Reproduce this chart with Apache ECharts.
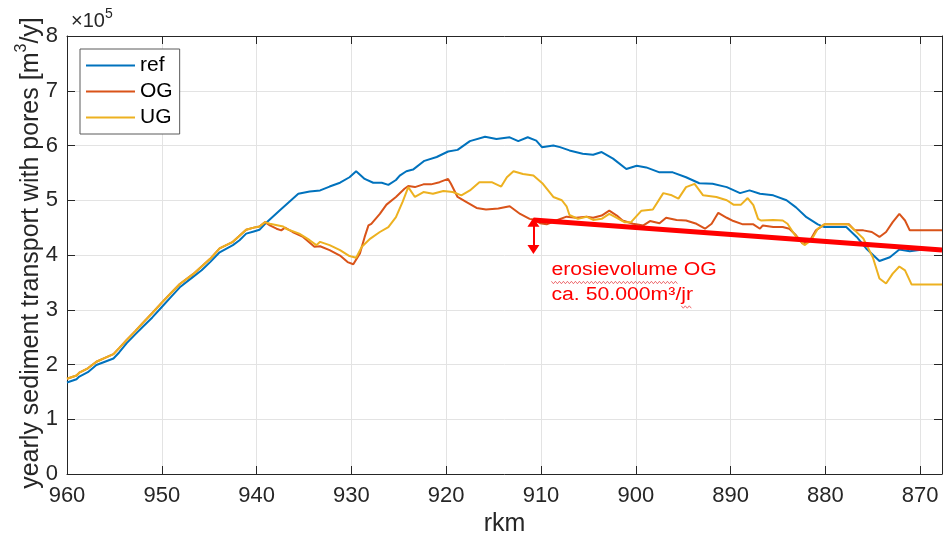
<!DOCTYPE html>
<html>
<head>
<meta charset="utf-8">
<script src="https://cdn.jsdelivr.net/npm/echarts@6/dist/echarts.min.js"></script>
<style>
  html, body { margin: 0; padding: 0; background: #fff; }
  #chart { width: 945px; height: 542px; }
</style>
</head>
<body>
<div id="chart"></div>
<script>
// Yearly sediment transport (incl. pores), values in units of 1e5 m3/y, along the river kilometre (rkm)

const xTickValues = [960, 950, 940, 930, 920, 910, 900, 890, 880, 870];
const xMin = 867.7;
const xMax = 960;

// reference run
const refKm = [960.0, 959.0, 958.7, 957.8, 956.9, 956.0, 955.1, 954.5, 953.7, 952.8, 952.0, 951.0, 950.0, 949.0, 948.1, 946.7, 945.8, 944.9, 943.9, 942.5, 941.8, 941.1, 940.3, 939.7, 939.1, 937.6, 935.6, 934.4, 933.3, 932.3, 931.2, 930.2, 929.5, 928.6, 927.7, 926.8, 926.1, 925.3, 924.9, 924.2, 923.5, 922.3, 921.0, 919.8, 918.8, 917.5, 915.9, 914.7, 913.3, 912.4, 911.4, 910.5, 909.9, 908.7, 908.0, 907.0, 905.6, 904.5, 903.6, 902.4, 901.0, 899.9, 898.9, 897.5, 896.1, 894.7, 893.3, 891.9, 890.4, 889.0, 888.0, 886.9, 885.5, 884.1, 883.1, 882.0, 880.8, 880.1, 877.8, 876.7, 875.7, 874.3, 873.2, 872.2, 871.1, 869.7, 867.7];
const refVal = [1.67, 1.73, 1.78, 1.86, 1.99, 2.05, 2.11, 2.22, 2.39, 2.55, 2.69, 2.86, 3.05, 3.24, 3.41, 3.60, 3.72, 3.87, 4.05, 4.18, 4.27, 4.39, 4.43, 4.46, 4.57, 4.81, 5.12, 5.16, 5.18, 5.25, 5.32, 5.42, 5.53, 5.39, 5.32, 5.32, 5.28, 5.37, 5.45, 5.53, 5.56, 5.72, 5.79, 5.89, 5.92, 6.08, 6.16, 6.12, 6.15, 6.08, 6.15, 6.09, 5.97, 6.00, 5.97, 5.91, 5.85, 5.83, 5.88, 5.76, 5.57, 5.63, 5.60, 5.51, 5.51, 5.42, 5.31, 5.30, 5.24, 5.13, 5.18, 5.12, 5.09, 5.00, 4.87, 4.69, 4.56, 4.51, 4.51, 4.33, 4.12, 3.89, 3.96, 4.10, 4.07, 4.10, 4.09];

// common upstream part of both variants
const sharedKm = [960.0, 959.0, 958.7, 957.8, 956.9, 956.0, 955.1, 954.5, 953.7, 952.8, 952.0, 951.0, 950.0, 949.0, 948.1, 946.7, 945.8, 944.9, 943.9, 942.5, 941.1, 940.3, 939.7, 939.1];
const sharedVal = [1.74, 1.80, 1.85, 1.93, 2.05, 2.12, 2.19, 2.30, 2.45, 2.61, 2.76, 2.94, 3.13, 3.31, 3.47, 3.65, 3.79, 3.93, 4.12, 4.24, 4.46, 4.50, 4.52, 4.60];

// variant OG
const ogKm = [938.6, 937.9, 937.4, 937.0, 936.2, 935.1, 933.9, 933.3, 932.3, 931.2, 930.4, 929.8, 929.1, 928.6, 928.2, 927.9, 927.0, 926.3, 925.3, 924.4, 924.0, 923.3, 922.4, 921.6, 920.7, 919.8, 919.5, 918.8, 917.9, 916.8, 915.8, 914.5, 913.3, 912.2, 911.2, 910.8, 910.1, 909.4, 908.4, 907.3, 906.3, 905.2, 904.5, 903.6, 902.8, 902.0, 901.4, 900.3, 899.2, 898.5, 897.5, 896.8, 895.7, 894.7, 893.6, 892.7, 892.0, 891.3, 890.4, 889.7, 888.7, 887.6, 886.9, 886.6, 885.5, 884.5, 883.8, 883.1, 882.4, 881.7, 881.0, 880.1, 877.5, 876.9, 876.0, 875.1, 874.3, 873.6, 872.9, 872.2, 871.6, 871.1, 867.7];
const ogVal = [4.54, 4.48, 4.45, 4.50, 4.42, 4.33, 4.15, 4.16, 4.09, 3.99, 3.87, 3.83, 4.03, 4.33, 4.54, 4.57, 4.75, 4.92, 5.06, 5.21, 5.26, 5.24, 5.29, 5.29, 5.33, 5.39, 5.30, 5.06, 4.97, 4.86, 4.83, 4.85, 4.89, 4.75, 4.66, 4.65, 4.58, 4.56, 4.63, 4.70, 4.68, 4.70, 4.68, 4.72, 4.81, 4.72, 4.63, 4.57, 4.54, 4.62, 4.58, 4.68, 4.64, 4.63, 4.57, 4.48, 4.57, 4.77, 4.68, 4.62, 4.56, 4.56, 4.48, 4.54, 4.51, 4.51, 4.48, 4.36, 4.21, 4.24, 4.45, 4.56, 4.56, 4.45, 4.45, 4.42, 4.33, 4.42, 4.60, 4.75, 4.63, 4.45, 4.45];

// variant UG
const ugKm = [938.6, 937.2, 936.9, 935.5, 934.4, 933.7, 933.3, 932.3, 931.2, 930.2, 929.5, 928.9, 928.0, 927.0, 926.1, 925.3, 924.6, 924.0, 923.3, 922.4, 921.4, 920.3, 919.3, 918.4, 917.5, 916.5, 915.2, 914.2, 913.6, 912.9, 911.9, 910.8, 909.8, 908.7, 907.8, 907.3, 907.0, 906.1, 905.2, 904.5, 903.6, 902.8, 902.0, 901.2, 900.5, 899.4, 898.2, 897.1, 896.2, 895.5, 894.7, 893.8, 892.9, 891.5, 890.4, 889.7, 888.9, 888.2, 887.6, 887.1, 886.8, 885.5, 884.5, 884.0, 883.2, 882.2, 881.5, 880.8, 880.1, 877.6, 876.9, 876.0, 875.0, 874.3, 873.6, 872.9, 872.2, 871.6, 870.9, 867.7];
const ugVal = [4.57, 4.52, 4.48, 4.39, 4.27, 4.18, 4.24, 4.18, 4.09, 3.98, 3.95, 4.15, 4.30, 4.42, 4.51, 4.69, 4.97, 5.24, 5.06, 5.15, 5.12, 5.17, 5.15, 5.09, 5.18, 5.33, 5.33, 5.25, 5.42, 5.53, 5.48, 5.45, 5.30, 5.06, 5.00, 4.89, 4.73, 4.66, 4.70, 4.64, 4.66, 4.75, 4.68, 4.60, 4.60, 4.81, 4.83, 5.13, 5.09, 5.03, 5.24, 5.30, 5.09, 5.06, 5.00, 4.92, 4.92, 5.04, 4.91, 4.66, 4.63, 4.64, 4.63, 4.57, 4.36, 4.18, 4.27, 4.48, 4.56, 4.56, 4.45, 4.30, 3.96, 3.57, 3.48, 3.66, 3.79, 3.72, 3.46, 3.46];

// erosion trend of OG and the erosion volume marker
const trendKm = [910.8, 867.7];
const trendVal = [4.64, 4.09];
const arrowKm = 910.8;
const arrowTop = 4.60;
const erosionVolume = 0.5; // 50.000 m3/jr = 0.5 x 1e5

const FONT = "'Liberation Sans', Arial, Helvetica, sans-serif";
const AXIS = '#262626';
const GRID = '#e3e3e3';

function pairs(km, val) { return km.map((k, i) => [k, val[i]]); }

const refData = pairs(refKm, refVal);
const ogData = pairs(sharedKm, sharedVal).concat(pairs(ogKm, ogVal));
const ugData = pairs(sharedKm, sharedVal).concat(pairs(ugKm, ugVal));
const trendData = pairs(trendKm, trendVal);

const chart = echarts.init(document.getElementById('chart'), null, { renderer: 'canvas' });

const xBase = {
  type: 'value', min: xMin, max: xMax, inverse: true,
  axisLine: { show: true, onZero: false, lineStyle: { color: AXIS, width: 1 } },
  axisTick: { show: true, inside: true, length: 8, customValues: xTickValues, lineStyle: { color: AXIS } },
  axisLabel: { show: false, customValues: xTickValues },
  splitLine: { show: false }
};
const yBase = {
  type: 'value', min: 0, max: 8, interval: 1,
  axisLine: { show: true, onZero: false, lineStyle: { color: AXIS, width: 1 } },
  axisTick: { show: true, inside: true, length: 8, lineStyle: { color: AXIS } },
  axisLabel: { show: false },
  splitLine: { show: false }
};

chart.setOption({
  animation: false,
  backgroundColor: '#fff',
  textStyle: { fontFamily: FONT },
  grid: { left: 67, top: 36, right: 3, bottom: 68, containLabel: false },
  legend: {
    orient: 'vertical', left: 80, top: 49,
    padding: [6, 7, 6, 6],
    itemGap: 5, itemWidth: 49, itemHeight: 2, icon: 'rect',
    backgroundColor: '#fff', borderColor: '#5a5a5a', borderWidth: 1, borderRadius: 0,
    textStyle: { fontSize: 21, lineHeight: 21, color: '#000', fontFamily: FONT },
    data: ['ref', 'OG', 'UG']
  },
  xAxis: [
    Object.assign({}, xBase, {
      position: 'bottom',
      name: 'rkm', nameLocation: 'middle', nameGap: 36,
      nameTextStyle: { fontSize: 25, color: AXIS, fontFamily: FONT },
      axisLabel: { show: true, customValues: xTickValues, fontSize: 22, color: AXIS, margin: 11, fontFamily: FONT },
      splitLine: { show: true, lineStyle: { color: GRID, width: 1 } }
    }),
    Object.assign({}, xBase, { position: 'top' })
  ],
  yAxis: [
    Object.assign({}, yBase, {
      position: 'left',
      axisLabel: { show: true, fontSize: 22, color: AXIS, margin: 9, fontFamily: FONT },
      splitLine: { show: true, lineStyle: { color: GRID, width: 1 } }
    }),
    Object.assign({}, yBase, { position: 'right' })
  ],
  series: [
    { name: 'ref', type: 'line', data: refData, symbol: 'none', lineStyle: { color: '#0072BD', width: 2 }, itemStyle: { color: '#0072BD' }, z: 2 },
    { name: 'OG', type: 'line', data: ogData, symbol: 'none', lineStyle: { color: '#D95319', width: 2 }, itemStyle: { color: '#D95319' }, z: 3 },
    { name: 'UG', type: 'line', data: ugData, symbol: 'none', lineStyle: { color: '#EDB120', width: 2 }, itemStyle: { color: '#EDB120' }, z: 4 },
    {
      name: 'trend', type: 'line', data: trendData, symbol: 'none',
      lineStyle: { color: '#ff0000', width: 5 }, z: 6, silent: true,
      markLine: {
        silent: true, animation: false,
        symbol: ['triangle', 'triangle'], symbolSize: [12, 9],
        lineStyle: { color: '#ff0000', width: 2, type: 'solid' },
        label: { show: false },
        data: [[{ coord: [arrowKm, arrowTop] }, { coord: [arrowKm, arrowTop - erosionVolume] }]]
      }
    }
  ]
});

// annotation texts placed relative to the plot
const anchor = chart.convertToPixel({ xAxisIndex: 0, yAxisIndex: 0 }, [arrowKm, arrowTop - erosionVolume]);
const tx = anchor[0] + 18;
const ty1 = anchor[1] + 21;
const ty2 = ty1 + 24.5;
const redFont = 18;
const stretch = 1.18;

function squiggle(x0, x1, y) {
  const pts = [];
  let up = true;
  for (let x = x0; x <= x1; x += 2) { pts.push([x, y + (up ? -1.2 : 1.2)]); up = !up; }
  return pts;
}
const w1 = 5.946 * redFont * stretch;   // width of "erosievolume"
const wJ0 = 6.114 * redFont * stretch;  // start of "jr"
const wJ1 = 6.669 * redFont * stretch;  // end of "jr"

chart.setOption({
  graphic: [
    {
      type: 'text', x: 71, y: 31, silent: true,
      style: {
        text: '{a|×10}{b|5}', x: 0, y: 0, verticalAlign: 'bottom', align: 'left',
        rich: {
          a: { fontSize: 20, fontFamily: FONT, fill: AXIS, lineHeight: 24, verticalAlign: 'bottom' },
          b: { fontSize: 14, fontFamily: FONT, fill: AXIS, lineHeight: 24, verticalAlign: 'top' }
        }
      }
    },
    {
      type: 'text', x: 29, y: 253, rotation: Math.PI / 2, silent: true,
      style: {
        text: '{a|yearly sediment transport with pores [m}{s|3}{a|/y]}',
        x: 0, y: 0, align: 'center', verticalAlign: 'middle',
        rich: {
          a: { fontSize: 25, fontFamily: FONT, fill: AXIS, lineHeight: 30, verticalAlign: 'bottom' },
          s: { fontSize: 16, fontFamily: FONT, fill: AXIS, lineHeight: 30, verticalAlign: 'top' }
        }
      }
    },
    {
      type: 'text', x: tx, y: ty1, scaleX: stretch, silent: true, z: 10,
      style: { text: 'erosievolume OG', x: 0, y: 0, align: 'left', verticalAlign: 'middle', fontSize: redFont, fontFamily: FONT, fill: '#ff0000' }
    },
    {
      type: 'text', x: tx, y: ty2, scaleX: stretch, silent: true, z: 10,
      style: { text: 'ca. 50.000m³/jr', x: 0, y: 0, align: 'left', verticalAlign: 'middle', fontSize: redFont, fontFamily: FONT, fill: '#ff0000' }
    },
    {
      type: 'polyline', silent: true, z: 10,
      shape: { points: squiggle(tx, tx + w1, ty1 + 12) },
      style: { stroke: '#e8484d', lineWidth: 0.8, fill: null }
    },
    {
      type: 'polyline', silent: true, z: 10,
      shape: { points: squiggle(tx + wJ0, tx + wJ1, ty2 + 12) },
      style: { stroke: '#e8484d', lineWidth: 0.8, fill: null }
    }
  ]
});
</script>
</body>
</html>
